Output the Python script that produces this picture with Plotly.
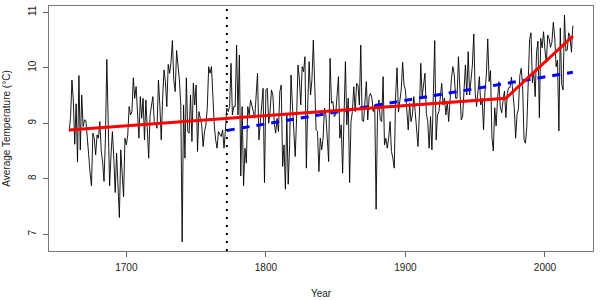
import plotly.graph_objects as go

start_year = 1659
temps = [
    8.85, 9.10, 9.78, 9.40, 8.62, 9.35, 8.30, 9.86, 8.52, 9.51,  # 1659-1668
    8.94, 9.06, 9.05, 8.79, 8.43, 8.10, 7.87, 8.82, 8.73, 8.43,  # 1669-1678
    8.79, 8.73, 9.03, 8.50, 8.30, 7.95, 8.73, 10.15, 8.73, 7.87,  # 1679-1688
    8.43, 8.85, 8.37, 7.75, 8.46, 8.00, 7.30, 8.52, 8.13, 7.67,  # 1689-1698
    8.73, 8.61, 8.79, 9.30, 9.15, 9.21, 9.82, 9.45, 9.66, 9.03,  # 1699-1708
    8.73, 9.48, 9.09, 9.45, 8.70, 9.42, 8.90, 8.37, 9.15, 9.30,  # 1709-1718
    9.48, 9.03, 9.00, 8.91, 9.78, 9.33, 8.70, 9.45, 9.96, 9.75,  # 1719-1728
    9.30, 10.06, 9.90, 10.10, 10.49, 9.78, 9.57, 10.31, 10.10, 9.78,  # 1729-1738
    9.33, 6.86, 9.33, 8.37, 9.82, 8.85, 8.82, 9.51, 8.67, 9.72,  # 1739-1748
    9.33, 9.69, 8.49, 9.21, 9.09, 8.97, 8.58, 8.85, 8.97, 9.27,  # 1749-1758
    10.02, 9.90, 10.02, 9.45, 8.97, 8.70, 8.55, 8.85, 8.79, 8.76,  # 1759-1768
    8.88, 8.55, 8.88, 9.27, 9.21, 9.30, 10.08, 9.15, 9.30, 9.30,  # 1769-1778
    10.41, 9.15, 10.23, 8.05, 9.30, 7.87, 8.55, 8.28, 9.30, 9.15,  # 1779-1788
    9.42, 9.33, 9.21, 9.09, 9.51, 9.90, 8.70, 9.06, 9.39, 9.63,  # 1789-1798
    7.93, 9.60, 9.63, 9.00, 9.21, 9.60, 9.51, 9.00, 8.82, 9.09,  # 1799-1808
    8.85, 9.57, 9.69, 8.22, 8.61, 7.81, 9.15, 7.90, 8.61, 9.87,  # 1809-1818
    9.33, 8.91, 8.40, 9.09, 10.05, 9.81, 9.33, 10.02, 9.93, 10.20,  # 1819-1828
    8.19, 9.33, 10.11, 9.51, 9.78, 10.50, 9.51, 8.88, 8.85, 8.13,  # 1829-1838
    8.73, 8.52, 8.73, 9.27, 9.15, 8.73, 8.31, 10.17, 9.36, 9.39,  # 1839-1848
    9.12, 9.15, 9.54, 9.84, 8.73, 8.97, 8.10, 9.21, 10.11, 8.97,  # 1849-1858
    9.45, 7.93, 9.03, 9.21, 9.66, 9.21, 9.72, 9.69, 9.33, 10.41,  # 1859-1868
    9.06, 9.03, 9.33, 9.75, 9.06, 9.48, 9.54, 9.45, 9.21, 9.33,  # 1869-1878
    7.45, 9.18, 9.42, 9.06, 9.03, 9.84, 8.61, 8.73, 8.55, 8.73,  # 1879-1888
    9.03, 8.49, 8.37, 8.19, 9.51, 10.00, 9.20, 9.39, 9.60, 10.10,  # 1889-1898
    9.69, 9.60, 9.15, 8.88, 9.36, 9.03, 9.15, 9.48, 9.21, 8.88,  # 1899-1908
    8.58, 9.15, 10.08, 9.48, 9.69, 9.90, 9.18, 9.03, 8.55, 9.12,  # 1909-1918
    8.52, 9.33, 10.49, 8.70, 9.15, 9.21, 9.51, 9.72, 9.33, 9.45,  # 1919-1928
    9.15, 9.39, 9.03, 9.54, 9.81, 10.02, 9.87, 9.45, 9.45, 10.20,  # 1929-1938
    9.51, 9.06, 9.12, 9.60, 10.05, 9.51, 10.29, 9.51, 9.78, 10.05,  # 1939-1948
    10.61, 9.54, 9.30, 9.54, 9.84, 9.33, 9.45, 8.88, 9.57, 9.87,  # 1949-1958
    10.52, 9.75, 9.95, 8.75, 8.50, 9.28, 8.95, 9.42, 9.75, 9.29,  # 1959-1968
    9.19, 9.42, 9.58, 9.10, 9.54, 9.64, 9.65, 9.83, 9.50, 9.28,  # 1969-1978
    8.73, 9.16, 9.26, 9.86, 9.99, 9.68, 8.71, 8.64, 8.94, 9.66,  # 1979-1988
    10.51, 10.63, 9.73, 9.94, 9.48, 10.28, 10.48, 9.10, 10.53, 10.36,  # 1989-1998
    10.65, 10.32, 10.09, 10.59, 10.52, 10.37, 10.46, 10.82, 10.55, 10.02,  # 1999-2008
    10.14, 8.86, 10.72, 9.70, 9.60, 10.95, 10.30, 10.32, 10.63, 10.56,  # 2009-2018
    10.28, 10.76,  # 2019-2020
]
years = list(range(start_year, start_year + len(temps)))

# Segmented (piecewise) fit
seg_years = [1659, 1972, 2020]
seg_vals = [8.88, 9.45, 10.57]

# Linear fit after change point
lin_years = [1772, 2020]
lin_vals = [8.87, 9.92]

change_year = 1772
x_ticks = [1700, 1800, 1900, 2000]
y_ticks = [7, 8, 9, 10, 11]

xspan = max(years) - min(years)
yspan = max(temps) - min(temps)
xr = [min(years) - 0.04 * xspan, max(years) + 0.04 * xspan]
yr = [min(temps) - 0.04 * yspan, max(temps) + 0.04 * yspan]

font = dict(family="Liberation Sans, Arial, sans-serif", size=10, color="#222")

fig = go.Figure()
fig.add_trace(go.Scatter(x=years, y=temps, mode="lines",
                         line=dict(color="black", width=0.9), showlegend=False))
fig.add_trace(go.Scatter(x=lin_years, y=lin_vals, mode="lines",
                         line=dict(color="#0000FF", width=3, dash="8px,7px"), showlegend=False))
fig.add_trace(go.Scatter(x=seg_years, y=seg_vals, mode="lines",
                         line=dict(color="#FF0000", width=3), showlegend=False))

fig.add_shape(type="line", xref="x", yref="paper", x0=change_year, x1=change_year,
              y0=0, y1=1, line=dict(color="black", width=2, dash="2px,6px"))

fig.update_layout(
    width=600, height=300,
    margin=dict(l=49, r=7, t=6, b=49),
    paper_bgcolor="white", plot_bgcolor="white",
    font=font,
)
fig.update_xaxes(range=xr, tickvals=x_ticks, ticks="outside", ticklen=5,
                 tickcolor="#666", showline=True, linecolor="#777", linewidth=1,
                 mirror=True, showgrid=False, zeroline=False, automargin=False,
                 ticklabelstandoff=2,
                 title=dict(text="Year", standoff=17, font=font), tickfont=font)
fig.update_yaxes(range=yr, tickvals=y_ticks, ticks="outside", ticklen=5,
                 tickcolor="#666", showline=True, linecolor="#777", linewidth=1,
                 mirror=True, showgrid=False, zeroline=False, tickangle=-90,
                 automargin=False, ticklabelstandoff=3,
                 title=dict(text="Average Temperature (°C)", standoff=14, font=font),
                 tickfont=font)

fig.write_html(
    "out.html",
    config={"displayModeBar": False},
    post_script="document.body.style.margin='0';document.body.style.overflow='hidden';",
)
